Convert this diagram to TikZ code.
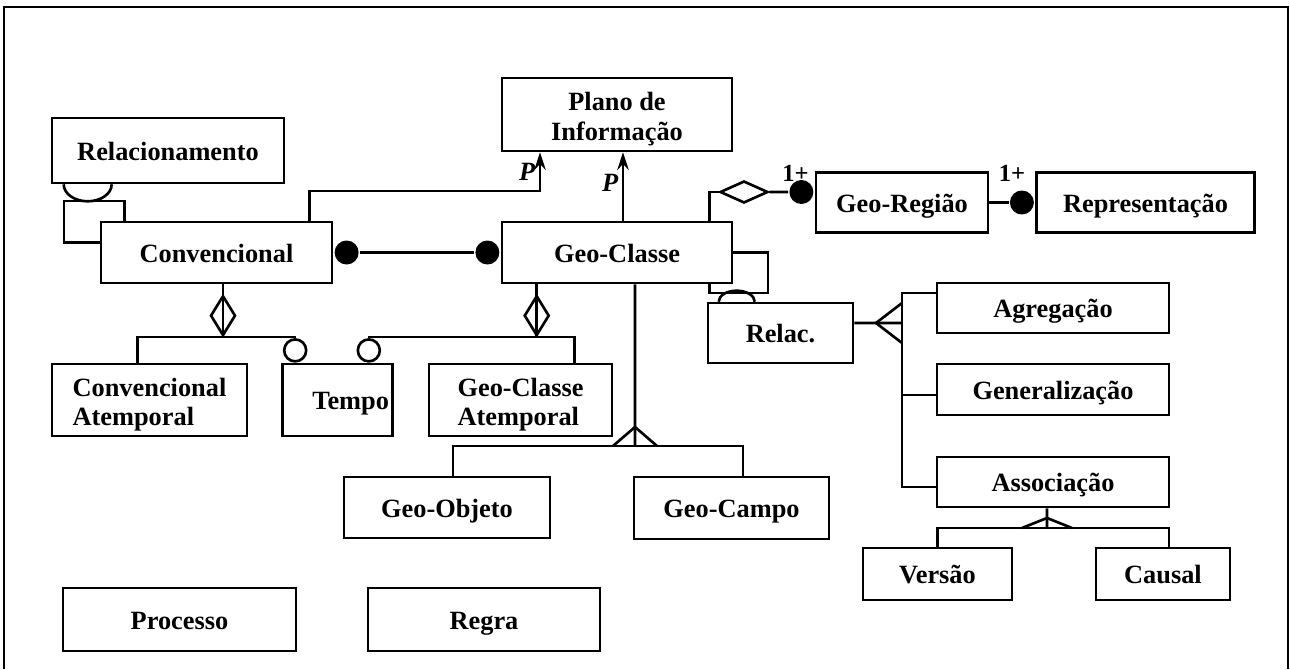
\documentclass[tikz,border=0pt]{standalone}
\usepackage{fontspec}
\setmainfont{Liberation Serif}
\usetikzlibrary{shapes.geometric,arrows.meta}

\tikzset{
  cls/.style={rectangle, draw, inner sep=2pt, align=center, font=\bfseries\fontsize{15}{17}\selectfont},
  one/.style={cls, text height=12pt, text depth=1pt},
  two/.style={cls, text height=30pt, text depth=0.5pt},
  dot/.style={circle, fill, inner sep=0pt, minimum size=0.48cm},
  ring/.style={circle, draw, fill=white, inner sep=0pt, minimum size=0.44cm},
  vagg/.style={diamond, draw, fill=white, inner sep=0pt, minimum width=0.5cm, minimum height=0.8cm},
  hagg/.style={diamond, draw, fill=white, inner sep=0pt, minimum width=0.96cm, minimum height=0.44cm},
  mult/.style={font=\bfseries\fontsize{14}{14}\selectfont, inner sep=1pt},
  pmark/.style={font=\bfseries\itshape\fontsize{15}{15}\selectfont, inner sep=2pt},
  pto/.style={-{Stealth[length=10pt,width=6.5pt]}}
}

\begin{document}
\begin{tikzpicture}[x=0.02cm, y=-0.02cm, line width=1.5pt]
    \useasboundingbox (0,0) rectangle (1290,669);
    \draw (4,669) |- (1288,7) -- (1288,669);

    % classes
    \node (rel) [one, minimum width=4.64cm, minimum height=1.3cm] at (168,150.5) {Relacionamento};
    \node (conv) [one, minimum width=4.62cm, minimum height=1.22cm] at (216.5,252.5) {Convencional};
    \node (plano) [two, minimum width=4.6cm, minimum height=1.46cm] at (617,114.5) {Plano de\\Informação};
    \node (geoc) [one, minimum width=4.6cm, minimum height=1.22cm] at (617,252.5) {Geo-Classe};
    \node (georeg) [one, minimum width=3.44cm, minimum height=1.2cm] at (902,202.5) {Geo-Região};
    \node (repr) [one, minimum width=4.36cm, minimum height=1.2cm] at (1145.5,202.5) {Representação};
    \node (relac) [one, minimum width=2.9cm, minimum height=1.2cm] at (780.5,333) {Relac.};
    \node (agreg) [one, minimum width=4.64cm, minimum height=1cm] at (1053,308) {Agregação};
    \node (gener) [one, minimum width=4.64cm, minimum height=1.02cm] at (1053,389.5) {Generalização};
    \node (assoc) [one, minimum width=4.64cm, minimum height=1cm] at (1053,482) {Associação};
    \node (versao) [one, minimum width=2.98cm, minimum height=1.04cm] at (937.5,574) {Versão};
    \node (causal) [one, minimum width=2.68cm, minimum height=1.04cm] at (1163,574) {Causal};
    \node (convat) [two, align=left, minimum width=3.9cm, minimum height=1.44cm] at (149.5,400) {Convencional\\Atemporal};
    \node (tempo) [one, text width=2.06cm, align=right, minimum height=1.44cm] at (337.5,400) {Tempo};
    \node (geocat) [two, align=left, minimum width=3.66cm, minimum height=1.44cm] at (520.5,400) {Geo-Classe\\Atemporal};
    \node (geoobj) [one, minimum width=4.12cm, minimum height=1.22cm] at (447,507.5) {Geo-Objeto};
    \node (geocampo) [one, minimum width=3.9cm, minimum height=1.24cm] at (731.5,508) {Geo-Campo};
    \node (processo) [one, minimum width=4.66cm, minimum height=1.26cm] at (179.5,619.5) {Processo};
    \node (regra) [one, minimum width=4.64cm, minimum height=1.26cm] at (484,619.5) {Regra};

    % Convencional -- Geo-Classe
    \node (cd) [dot, anchor=west] at (conv.east) {};
    \node (gd) [dot, anchor=east] at (geoc.west) {};
    \draw (cd) -- (gd);

    % P arrows to Plano de Informacao
    \coordinate (pbend) at (540,191);
    \draw[pto] ([xshift=-0.48cm]conv.north east) |- (pbend) -- node[pmark, left] {P} (pbend |- plano.south);
    \draw[pto] ([xshift=0.12cm]geoc.north) -- node[pmark, left, pos=0.55] {P} ([xshift=0.12cm]plano.south);

    % Geo-Classe -- Geo-Regiao -- Representacao
    \node (agg) [hagg] at (744,192) {};
    \node (rd) [dot, anchor=east] at ([yshift=0.21cm]georeg.west) {};
    \draw ([xshift=-0.48cm]geoc.north east) |- (agg.west);
    \draw (agg.east) -- (rd);
    \node [mult, anchor=east] at ([xshift=-0.06cm, yshift=-0.04cm]georeg.north west) {1+};
    \node (rd2) [dot, anchor=east] at (repr.west) {};
    \draw (georeg.east) -- (rd2);
    \node [mult, anchor=east] at ([xshift=-0.14cm, yshift=-0.04cm]repr.north west) {1+};

    % self relationships
    \coordinate (gloop) at (768,293);
    \draw (geoc.east) -| (gloop) -| ([xshift=-0.48cm]geoc.south east);
    \draw ([xshift=0.24cm]relac.north west) arc[start angle=180, end angle=0, x radius=0.36cm, y radius=0.22cm];
    \coordinate (cloop) at (64,201);
    \draw ([yshift=0.2cm]conv.west) -| (cloop) -| ([xshift=0.5cm]conv.north west);
    \draw ([xshift=0.26cm]rel.south west) arc[start angle=180, end angle=360, x radius=0.48cm, y radius=0.34cm];

    % aggregations with Tempo
    \node (cagg) [vagg, anchor=north] at ([xshift=0.13cm, yshift=-0.2cm]conv.south) {};
    \draw (conv.south -| cagg) -- (cagg.south);
    \node (tr1) [ring, anchor=south] at ([xshift=0.28cm]tempo.north west) {};
    \node (tr2) [ring, anchor=south] at ([xshift=-0.5cm]tempo.north east) {};
    \draw ([xshift=-0.24cm]convat.north) |- (cagg.south) -| (tr1);
    \node (gagg) [vagg, anchor=north] at ([xshift=0.72cm, yshift=-0.2cm]geoc.south west) {};
    \draw (geoc.south -| gagg) -- (gagg.south);
    \draw (tr2) |- (gagg.south) -| ([xshift=-0.78cm]geocat.north east);

    % Geo-Classe specialisation
    \coordinate (gsplit) at (635,446);
    \draw ([xshift=0.36cm]geoc.south) -- (gsplit);
    \draw ([xshift=-0.44cm]gsplit) -- ([yshift=0.38cm]gsplit) -- ([xshift=0.44cm]gsplit);
    \draw ([xshift=0.12cm]geoobj.north) |- (gsplit) -| ([xshift=0.23cm]geocampo.north);

    % Relac. specialisation
    \coordinate (rsplit) at (902,323);
    \coordinate (rbot) at (902,487);
    \draw ([yshift=0.2cm]relac.east) -- (rsplit);
    \draw ([yshift=0.4cm]rsplit) -- ([xshift=-0.52cm]rsplit) -- ([yshift=-0.4cm]rsplit);
    \draw ([yshift=0.3cm]agreg.west) -| (rbot) -- (rbot -| assoc.west);
    \draw ([yshift=-0.11cm]gener.west) -- ++(-35,0);

    % Associacao specialisation
    \coordinate (asplit) at (1047,528);
    \draw ([xshift=-0.12cm]assoc.south) -- (asplit);
    \draw ([xshift=-0.5cm]asplit) -- ([yshift=0.2cm]asplit) -- ([xshift=0.5cm]asplit);
    \draw (versao.north) |- (asplit) -| ([xshift=0.12cm]causal.north);
\end{tikzpicture}
\end{document}
